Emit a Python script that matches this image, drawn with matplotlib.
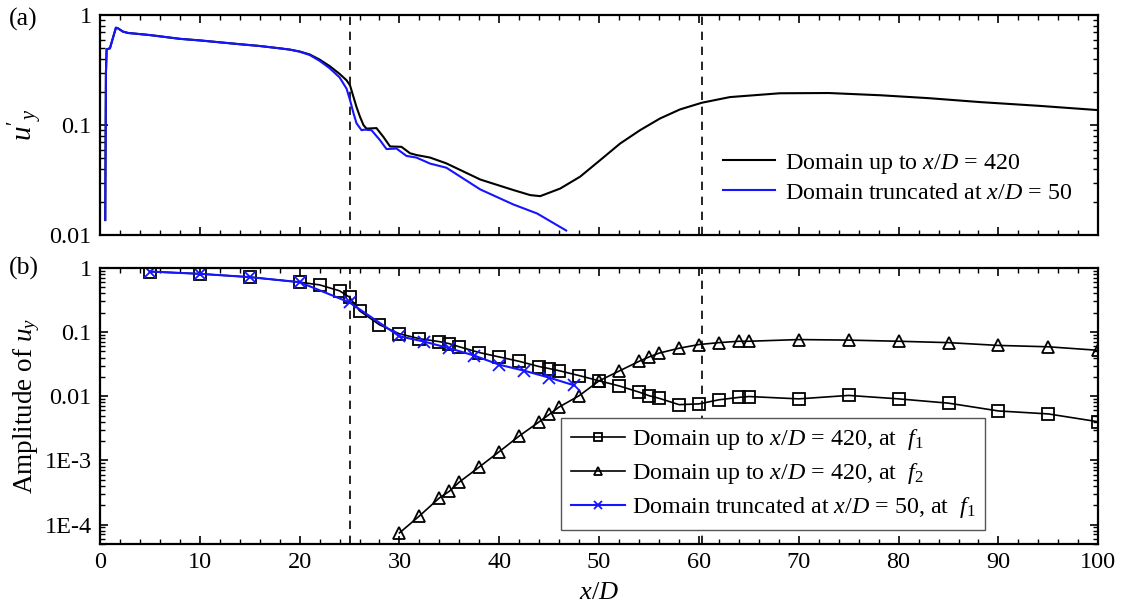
import numpy as np
import matplotlib.pyplot as plt
from matplotlib.ticker import FuncFormatter, MultipleLocator, LogLocator, NullFormatter

plt.rcParams['font.family'] = 'Liberation Serif'
plt.rcParams['mathtext.fontset'] = 'custom'
plt.rcParams['mathtext.rm'] = 'Liberation Serif'
plt.rcParams['mathtext.it'] = 'Liberation Serif:italic'

# (a) rms of u_y along the centreline
x_full = [0.53, 0.6, 0.67, 1.0, 1.33, 1.6, 1.8, 2.3, 2.8, 5, 8, 10, 14, 16, 18, 19, 20, 21, 22, 23, 24,
          24.7, 25.05, 25.4, 25.7, 26.05, 26.4, 26.7, 27.7, 28.4, 29.06, 30.2, 31.06, 31.7, 33.07,
          34.7, 38.1, 41.4, 43.1, 44.1, 46.1, 48.1, 50.1, 52.1, 54.1, 56.1, 58.1, 60.3, 63.1,
          68.1, 73, 78.2, 83, 88.2, 94, 100]
u_full = [0.0137, 0.3, 0.49, 0.5, 0.635, 0.77, 0.76, 0.71, 0.69, 0.66, 0.61, 0.59, 0.545, 0.525, 0.5,
          0.487, 0.468, 0.44, 0.395, 0.345, 0.293,
          0.256, 0.23, 0.18, 0.146, 0.119, 0.1, 0.093, 0.094, 0.078, 0.064, 0.0635, 0.0555, 0.0535, 0.0507,
          0.0449, 0.032, 0.0257, 0.0231, 0.0226, 0.0265, 0.034, 0.048, 0.068, 0.09, 0.115, 0.139, 0.16, 0.18,
          0.195, 0.196, 0.187, 0.176, 0.162, 0.15, 0.137]

x_trunc = [0.53, 0.6, 0.67, 1.0, 1.33, 1.6, 1.8, 2.3, 2.8, 5, 8, 10, 14, 16, 18, 19, 20, 21, 22, 23,
           24, 24.7, 25.05, 25.4, 25.7, 26.2, 26.5, 27.2, 28.05, 28.7, 29.7, 30.7, 31.7, 33.07,
           34.7, 38.1, 41.4, 43.8, 46.7]
u_trunc = [0.0137, 0.3, 0.49, 0.5, 0.635, 0.77, 0.76, 0.71, 0.69, 0.66, 0.61, 0.59, 0.545, 0.525, 0.5,
           0.487, 0.466, 0.435, 0.385, 0.33,
           0.272, 0.215, 0.169, 0.128, 0.104, 0.09, 0.091, 0.09, 0.073, 0.0606, 0.0613, 0.0525, 0.0507, 0.0447,
           0.041, 0.026, 0.019, 0.0157, 0.011]

# (b) amplitudes at f1 and f2
x_f1 = [5, 10, 15, 20, 22, 24, 25, 26, 28, 30, 32, 34, 35, 36, 38, 40, 42, 44, 45, 46, 48, 50,
        52, 54, 55, 56, 58, 60, 62, 64, 65, 70, 75, 80, 85, 90, 95, 100]
a_f1 = [0.877, 0.81, 0.72, 0.6, 0.545, 0.44, 0.35, 0.215, 0.13, 0.094, 0.079, 0.071, 0.066, 0.059,
        0.048, 0.041, 0.035, 0.029, 0.027, 0.025, 0.021, 0.0174,
        0.0145, 0.0116, 0.0102, 0.0093, 0.0074, 0.0076, 0.0088, 0.0096, 0.0099, 0.0091, 0.0103,
        0.0091, 0.0078, 0.0059, 0.0053, 0.0040]

x_f2 = [30, 32, 34, 35, 36, 38, 40, 42, 44, 45, 46, 48, 50, 52, 54, 55, 56, 58, 60, 62, 64, 65,
        70, 75, 80, 85, 90, 95, 100]
a_f2 = [7.4e-5, 1.36e-4, 2.6e-4, 3.3e-4, 4.6e-4, 7.9e-4, 1.37e-3, 2.4e-3, 4.0e-3, 5.2e-3, 6.8e-3,
        0.0102, 0.0174, 0.0247, 0.035, 0.041, 0.047, 0.056, 0.064, 0.0685, 0.072, 0.072,
        0.0765, 0.075, 0.072, 0.0685, 0.062, 0.059, 0.052]

x_tr = [5, 10, 15, 20, 25, 30, 32.5, 35, 37.5, 40, 42.5, 45, 47.5]
a_tr = [0.88, 0.81, 0.72, 0.6, 0.29, 0.086, 0.071, 0.056, 0.043, 0.031, 0.025, 0.0195, 0.0148]

x_dash = [25, 60.3]

fig = plt.figure(figsize=(11.23, 6.09), dpi=100)
ax1 = fig.add_axes([0.089, 0.614, 0.889, 0.361])
ax2 = fig.add_axes([0.089, 0.107, 0.889, 0.453])

blue = '#1515ff'

ax1.plot(x_full, u_full, color='black', lw=1.5, label='Domain up to $x/D$ = 420')
ax1.plot(x_trunc, u_trunc, color=blue, lw=1.5, label='Domain truncated at $x/D$ = 50')
ax1.set_yscale('log')
ax1.set_ylim(0.01, 1)
ax1.set_xlim(0, 100)
ax1.legend(loc='lower left', bbox_to_anchor=(0.602, 0.045), frameon=False, fontsize=17.3,
           handlelength=2.2, handletextpad=0.4, labelspacing=0.25)

ax2.plot(x_f1, a_f1, color='black', lw=1.2, marker='s', ms=8, mfc='none', mec='black', mew=1.3,
         label='Domain up to $x/D$ = 420, at  $f_{\\rm 1}$')
ax2.plot(x_f2, a_f2, color='black', lw=1.2, marker='^', ms=9, mfc='none', mec='black', mew=1.3,
         label='Domain up to $x/D$ = 420, at  $f_{\\rm 2}$')
ax2.plot(x_tr, a_tr, color=blue, lw=1.5, marker='x', ms=9, mew=1.3,
         label='Domain truncated at $x/D$ = 50, at  $f_{\\rm 1}$')
ax2.set_yscale('log')
ax2.set_ylim(5e-5, 1)
ax2.set_xlim(0, 100)
leg = ax2.legend(loc='lower left', bbox_to_anchor=(0.462, 0.05), borderaxespad=0, fontsize=17.3,
                 fancybox=False, framealpha=1, edgecolor='#555555', markerscale=0.65,
                 handlelength=2.25, handletextpad=0.3, labelspacing=0.38, borderpad=0.4)
leg.get_frame().set_linewidth(1.0)

for ax in (ax1, ax2):
    for xv in x_dash:
        ax.axvline(xv, color='black', lw=1.2, ls=(0, (5, 4)), zorder=0)
    ax.xaxis.set_major_locator(MultipleLocator(10))
    ax.xaxis.set_minor_locator(MultipleLocator(2))
    ax.yaxis.set_major_locator(LogLocator(base=10, numticks=10))
    ax.yaxis.set_minor_locator(LogLocator(base=10, subs=np.arange(2, 10), numticks=10))
    ax.yaxis.set_minor_formatter(NullFormatter())
    ax.tick_params(which='both', direction='in', top=True, right=True, labelsize=17.5, pad=6)
    ax.tick_params(which='major', length=6, width=1.2)
    ax.tick_params(which='minor', length=3.5, width=1.0)
    for s in ax.spines.values():
        s.set_linewidth(1.6)


def fmt_a(v, pos):
    return {1: '1', 0.1: '0.1', 0.01: '0.01'}.get(round(v, 6), '')


def fmt_b(v, pos):
    return {1: '1', 0.1: '0.1', 0.01: '0.01', 0.001: '1E-3', 0.0001: '1E-4'}.get(round(v, 6), '')


ax1.yaxis.set_major_formatter(FuncFormatter(fmt_a))
ax2.yaxis.set_major_formatter(FuncFormatter(fmt_b))
ax1.set_xticklabels([])
ax2.set_xlabel('$x/D$', fontsize=19, labelpad=6)
ax1.set_ylabel("$u'_y$", fontsize=21, labelpad=3)
ax2.set_ylabel('Amplitude of $u_y$', fontsize=19.5, labelpad=2)

fig.text(0.008, 0.968, '(a)', fontsize=18.5, va='center')
fig.text(0.008, 0.56, '(b)', fontsize=18.5, va='center')

fig.savefig('out.png', dpi=100)
